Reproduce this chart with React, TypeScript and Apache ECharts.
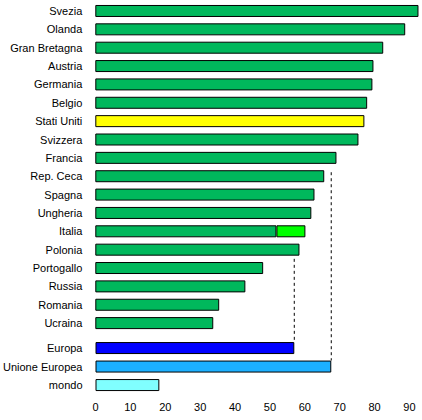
import React, { useEffect, useRef } from "react";
import * as echarts from "echarts";

const countries = [
  "Svezia", "Olanda", "Gran Bretagna", "Austria", "Germania", "Belgio",
  "Stati Uniti", "Svizzera", "Francia", "Rep. Ceca", "Spagna", "Ungheria",
  "Italia", "Polonia", "Portogallo", "Russia", "Romania", "Ucraina",
];
const countryValues = [
  92.6, 88.8, 82.5, 79.7, 79.4, 77.9, 77.1, 75.4, 69.1, 65.6, 62.8, 61.9,
  51.9, 58.5, 48.1, 43.0, 35.5, 33.8,
];
// extra segment (Italy only)
const extraCategory = "Italia";
const extraValue = 8.3;

const aggregates = ["Europa", "Unione Europea", "mondo"];
const aggregateValues = [57.0, 67.6, 18.3];

const xMin = 0;
const xMax = 93;
const xInterval = 10;

const GREEN = "#00b85c";
const specialColors: Record<string, string> = {
  "Stati Uniti": "#ffff00",
  Europa: "#0000ff",
  "Unione Europea": "#1cb0ff",
  mondo: "#80ffff",
};
const EXTRA_COLOR = "#00ff00";

export default function App() {
  const ref = useRef<HTMLDivElement>(null);

  useEffect(() => {
    document.body.style.margin = "0";
    if (!ref.current) return;
    const chart = echarts.init(ref.current, undefined, { renderer: "svg" });

    const font = {
      fontFamily: "'Liberation Sans', Arial, sans-serif",
      fontSize: 11,
      color: "#000",
    };
    const left = 95.3;
    const pxPerUnit = 3.49;
    const gridW = (xMax - xMin) * pxPerUnit;
    const right = 422 - left - gridW;

    const xAxisBase = {
      type: "value" as const,
      min: xMin,
      max: xMax,
      interval: xInterval,
      axisLine: { show: false },
      axisTick: { show: false },
      splitLine: { show: false },
    };
    const yAxisBase = {
      type: "category" as const,
      inverse: true,
      axisLine: { show: false },
      axisTick: { show: false },
      splitLine: { show: false },
      axisLabel: { ...font, margin: 13 },
    };

    const itemBorder = { borderColor: "#000", borderWidth: 1 };

    chart.setOption({
      animation: false,
      backgroundColor: "#fff",
      grid: [
        { left, right, top: 1.8, height: 18 * 18.36 },
        { left, right, top: 338.8, height: 3 * 18.5 },
      ],
      xAxis: [
        { ...xAxisBase, gridIndex: 0, axisLabel: { show: false } },
        {
          ...xAxisBase,
          gridIndex: 1,
          axisLabel: { ...font, margin: 7, showMaxLabel: false },
        },
      ],
      yAxis: [
        { ...yAxisBase, gridIndex: 0, data: countries },
        { ...yAxisBase, gridIndex: 1, data: aggregates },
      ],
      series: [
        {
          type: "bar",
          xAxisIndex: 0,
          yAxisIndex: 0,
          stack: "tot",
          barWidth: 12,
          data: countries.map((c, i) => ({
            value: countryValues[i],
            itemStyle: { color: specialColors[c] || GREEN, ...itemBorder },
          })),
        },
        {
          type: "bar",
          xAxisIndex: 0,
          yAxisIndex: 0,
          stack: "tot",
          barWidth: 12,
          data: countries.map((c) =>
            c === extraCategory
              ? { value: extraValue, itemStyle: { color: EXTRA_COLOR, ...itemBorder } }
              : null
          ),
        },
        {
          type: "bar",
          xAxisIndex: 1,
          yAxisIndex: 1,
          barWidth: 12,
          data: aggregates.map((c, i) => ({
            value: aggregateValues[i],
            itemStyle: { color: specialColors[c] || GREEN, ...itemBorder },
          })),
        },
      ],
    });

    // dashed reference lines for Europa and Unione Europea
    const euVal = aggregateValues[aggregates.indexOf("Unione Europea")];
    const eurVal = aggregateValues[aggregates.indexOf("Europa")];
    const g0 = { xAxisIndex: 0, yAxisIndex: 0 };
    const g1 = { xAxisIndex: 1, yAxisIndex: 1 };
    const euStart = chart.convertToPixel(g0, [euVal, "Rep. Ceca"]) as number[];
    const euEnd = chart.convertToPixel(g1, [euVal, "Unione Europea"]) as number[];
    const polP = chart.convertToPixel(g0, [eurVal, "Polonia"]) as number[];
    const porP = chart.convertToPixel(g0, [eurVal, "Portogallo"]) as number[];
    const eurEnd = chart.convertToPixel(g1, [eurVal, "Europa"]) as number[];

    const dashStyle = { stroke: "#000", lineWidth: 1, lineDash: [3, 3] };
    chart.setOption({
      graphic: [
        {
          type: "line",
          shape: { x1: euStart[0], y1: euStart[1] - 4, x2: euEnd[0], y2: euEnd[1] - 6 },
          style: dashStyle,
          silent: true,
        },
        {
          type: "line",
          shape: {
            x1: polP[0],
            y1: (polP[1] + porP[1]) / 2,
            x2: eurEnd[0],
            y2: eurEnd[1] - 6,
          },
          style: dashStyle,
          silent: true,
        },
      ],
    });

    return () => chart.dispose();
  }, []);

  return <div ref={ref} style={{ width: 422, height: 420 }} />;
}
